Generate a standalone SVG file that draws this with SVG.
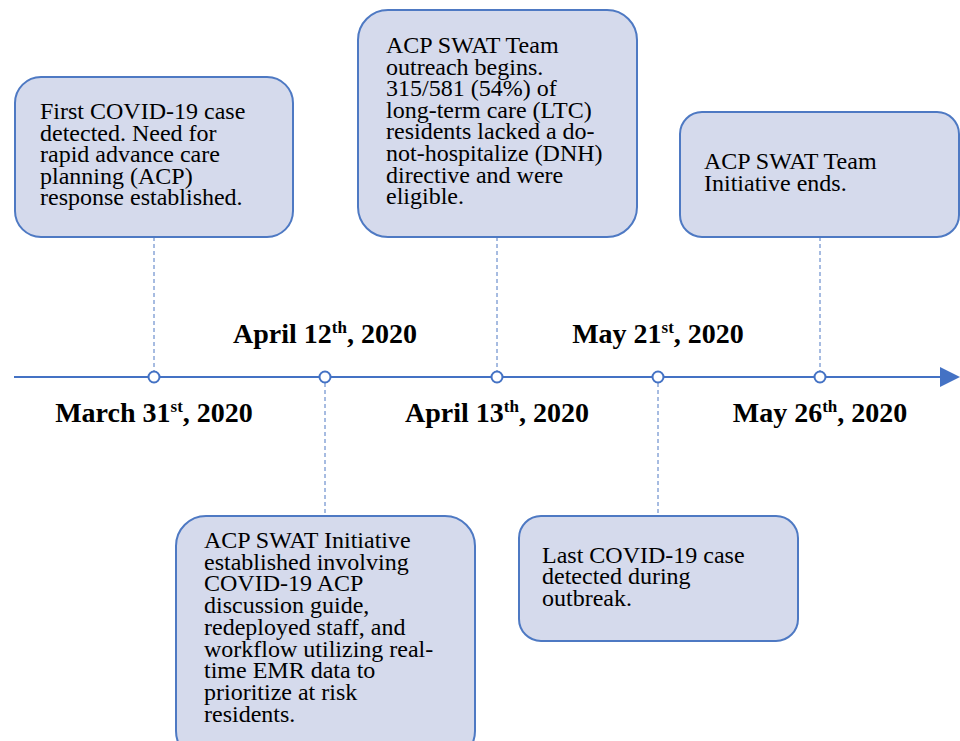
<svg xmlns="http://www.w3.org/2000/svg" width="960" height="741" viewBox="0 0 960 741">
<style>
.box{fill:#D5DAEC;stroke:#4E79C3;stroke-width:2}
.t{font-family:"Liberation Serif",serif;font-size:24px;fill:#000}
.d{font-family:"Liberation Serif",serif;font-size:28px;font-weight:bold;fill:#000;text-anchor:middle}
.sup{font-size:17px}
.dash{stroke:#4E79C3;stroke-width:1;stroke-dasharray:4 3;fill:none}
.dot{fill:#fff;stroke:#4472C4;stroke-width:2}
</style>
<rect width="960" height="741" fill="#fff"/>
<g id="connectors">
<line x1="14" y1="377" x2="940" y2="377" stroke="#4472C4" stroke-width="2"/>
<path d="M940,367 L960,377 L940,387 Z" fill="#4472C4"/>
<line class="dash" x1="154" y1="237" x2="154" y2="371"/>
<line class="dash" x1="325" y1="383" x2="325" y2="516"/>
<line class="dash" x1="497" y1="237" x2="497" y2="371"/>
<line class="dash" x1="658" y1="383" x2="658" y2="516"/>
<line class="dash" x1="820" y1="237" x2="820" y2="371"/>
<circle class="dot" cx="154" cy="377" r="5.5"/>
<circle class="dot" cx="325" cy="377" r="5.5"/>
<circle class="dot" cx="497" cy="377" r="5.5"/>
<circle class="dot" cx="658" cy="377" r="5.5"/>
<circle class="dot" cx="820" cy="377" r="5.5"/>
</g>
<g id="node1">
<rect class="box" x="15" y="77" width="278" height="160" rx="26"/>
<text class="t" x="40" y="119">First COVID-19 case</text>
<text class="t" x="40" y="140.6">detected. Need for</text>
<text class="t" x="40" y="162.2">rapid advance care</text>
<text class="t" x="40" y="183.8">planning (ACP)</text>
<text class="t" x="40" y="205.4">response established.</text>
</g>
<g id="node2">
<rect class="box" x="358" y="10" width="279" height="227" rx="30"/>
<text class="t" x="386" y="53">ACP SWAT Team</text>
<text class="t" x="386" y="74.6">outreach begins.</text>
<text class="t" x="386" y="96.2">315/581 (54%) of</text>
<text class="t" x="386" y="117.8">long-term care (LTC)</text>
<text class="t" x="386" y="139.4">residents lacked a do-</text>
<text class="t" x="386" y="161">not-hospitalize (DNH)</text>
<text class="t" x="386" y="182.6">directive and were</text>
<text class="t" x="386" y="204.2">eligible.</text>
</g>
<g id="node3">
<rect class="box" x="680" y="112" width="279" height="125" rx="22"/>
<text class="t" x="704" y="168.5">ACP SWAT Team</text>
<text class="t" x="704" y="190.5">Initiative ends.</text>
</g>
<g id="node4">
<rect class="box" x="176" y="516" width="299" height="245" rx="30"/>
<text class="t" x="204" y="548">ACP SWAT Initiative</text>
<text class="t" x="204" y="569.7">established involving</text>
<text class="t" x="204" y="591.4">COVID-19 ACP</text>
<text class="t" x="204" y="613.1">discussion guide,</text>
<text class="t" x="204" y="634.8">redeployed staff, and</text>
<text class="t" x="204" y="656.5">workflow utilizing real-</text>
<text class="t" x="204" y="678.2">time EMR data to</text>
<text class="t" x="204" y="699.9">prioritize at risk</text>
<text class="t" x="204" y="721.6">residents.</text>
</g>
<g id="node5">
<rect class="box" x="519" y="516" width="279" height="125" rx="22"/>
<text class="t" x="542" y="562.5">Last COVID-19 case</text>
<text class="t" x="542" y="584.2">detected during</text>
<text class="t" x="542" y="605.9">outbreak.</text>
</g>
<g id="dates">
<text class="d" x="154" y="422">March 31<tspan class="sup" dy="-10">st</tspan><tspan dy="10">, 2020</tspan></text>
<text class="d" x="325" y="343">April 12<tspan class="sup" dy="-10">th</tspan><tspan dy="10">, 2020</tspan></text>
<text class="d" x="497" y="422">April 13<tspan class="sup" dy="-10">th</tspan><tspan dy="10">, 2020</tspan></text>
<text class="d" x="658" y="343">May 21<tspan class="sup" dy="-10">st</tspan><tspan dy="10">, 2020</tspan></text>
<text class="d" x="820" y="422">May 26<tspan class="sup" dy="-10">th</tspan><tspan dy="10">, 2020</tspan></text>
</g>
</svg>
